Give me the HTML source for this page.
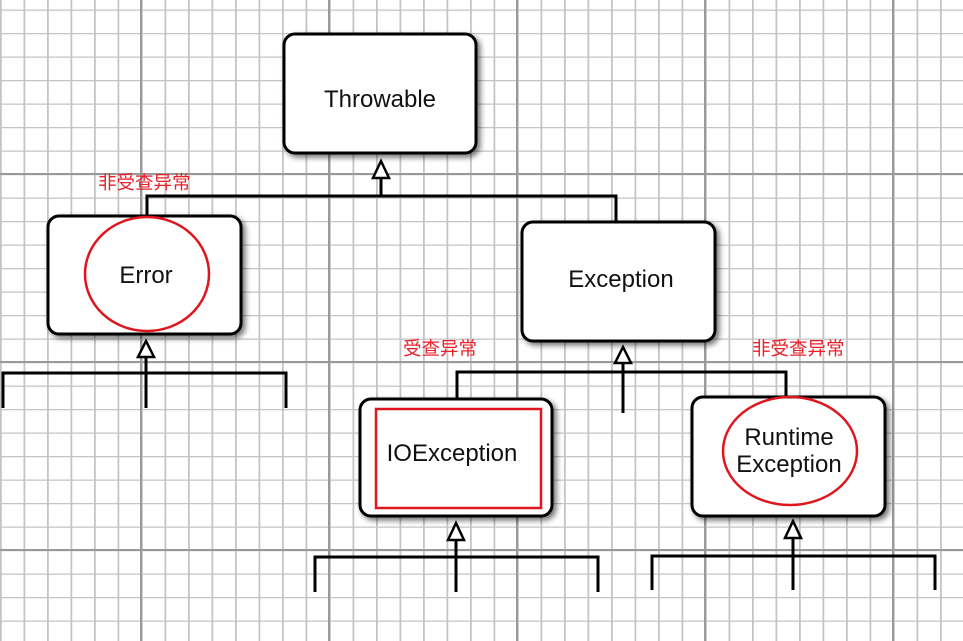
<!DOCTYPE html>
<html><head><meta charset="utf-8"><style>
html,body{margin:0;padding:0;background:#fff}
svg{display:block}
text{font-family:"Liberation Sans","Noto Sans CJK SC",sans-serif}
</style></head><body>
<svg width="963" height="641" viewBox="0 0 963 641" xmlns="http://www.w3.org/2000/svg">
<defs>
<pattern id="minor" x="0" y="9.5" width="23.5" height="23.5" patternUnits="userSpaceOnUse">
<path d="M0 0H23.5M0 0V23.5" stroke="#c4c4c4" stroke-width="2.6" fill="none" transform="translate(0.5,0)"/>
</pattern>
<filter id="sh" x="-20%" y="-20%" width="140%" height="140%"><feDropShadow dx="3" dy="3" stdDeviation="3" flood-color="#000" flood-opacity="0.55"/></filter>
</defs>
<rect width="963" height="641" fill="#fff"/>
<rect x="0" y="0" width="963" height="641" fill="url(#minor)"/>
<g stroke="#999" stroke-width="2">
<line x1="141" y1="0" x2="141" y2="641"/><line x1="329" y1="0" x2="329" y2="641"/><line x1="517" y1="0" x2="517" y2="641"/><line x1="705" y1="0" x2="705" y2="641"/><line x1="893" y1="0" x2="893" y2="641"/>
<line x1="0" y1="174" x2="963" y2="174"/><line x1="0" y1="362" x2="963" y2="362"/><line x1="0" y1="550" x2="963" y2="550"/>
</g>
<g stroke="#000" stroke-width="3" fill="none">
<path d="M381 178V196M147 216V196H616V222"/>
<path d="M146 357V408M3 408V373H286V408"/>
<path d="M623 363V413M457 399V372H786V397"/>
<path d="M456 540V592M315 592V557H598V592"/>
<path d="M793 538V590M652 590V556H935V590"/>
</g>
<g stroke="#000" stroke-width="2.5" fill="#fff">
<polygon points="381,161 373,178 389,178"/>
<polygon points="146,341 138,357 154,357"/>
<polygon points="623,347 615,363 631,363"/>
<polygon points="456,523 448,540 464,540"/>
<polygon points="793,521 785,538 801,538"/>
</g>
<g stroke="#000" stroke-width="3" fill="#fff" filter="url(#sh)">
<rect x="284" y="34" width="192" height="119" rx="11"/>
<rect x="48" y="216" width="193" height="118" rx="11"/>
<rect x="522" y="222" width="193" height="119" rx="11"/>
<rect x="360" y="399" width="192" height="117" rx="11"/>
<rect x="692" y="397" width="193" height="119" rx="11"/>
</g>
<g fill="none" stroke="#e0161e" stroke-width="2.5">
<ellipse cx="147" cy="274" rx="62" ry="57"/>
<ellipse cx="790" cy="451" rx="67" ry="54"/>
<rect x="376" y="409" width="165" height="99"/>
</g>
<g font-size="24" fill="#111" text-anchor="middle">
<text x="380" y="107">Throwable</text>
<text x="146" y="283">Error</text>
<text x="621" y="287">Exception</text>
<text x="452" y="461">IOException</text>
<text x="789" y="445">Runtime</text>
<text x="789" y="472">Exception</text>
</g>
<g font-size="18.5" fill="#e8222a">
<text x="98" y="189">非受查异常</text>
<text x="403" y="355">受查异常</text>
<text x="752" y="355">非受查异常</text>
</g>
</svg>
</body></html>
